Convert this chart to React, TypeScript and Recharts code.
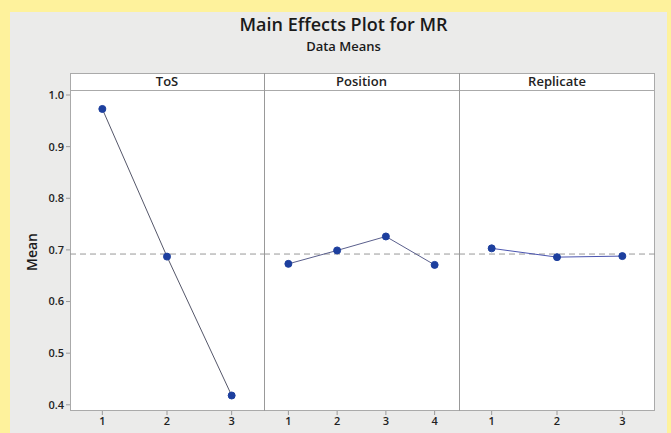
import React from "react";
import { LineChart, Line, XAxis, YAxis, ReferenceLine } from "recharts";

const tosLevels = ["1", "2", "3"];
const tosMeans = [0.973, 0.687, 0.418];
const positionLevels = ["1", "2", "3", "4"];
const positionMeans = [0.673, 0.699, 0.726, 0.671];
const replicateLevels = ["1", "2", "3"];
const replicateMeans = [0.703, 0.686, 0.688];
const overallMean = 0.692;
const yTicks = [0.4, 0.5, 0.6, 0.7, 0.8, 0.9, 1.0];

const FONT = "'Open Sans', 'Noto Sans', sans-serif";
const yDomain = [0.388, 1.0097];

const toRows = (levels: string[], means: number[]) =>
  levels.map((level, i) => ({ level, mean: means[i] }));

interface PanelProps {
  levels: string[];
  means: number[];
  left: number;
  width: number;
  lineColor: string;
  showY?: boolean;
}

const Panel: React.FC<PanelProps> = ({ levels, means, left, width, lineColor, showY }) => {
  const yw = showY ? 70 : 0;
  return (
    <div style={{ position: "absolute", left: left - yw, top: 0 }}>
      <LineChart
        width={width + yw}
        height={433}
        data={toRows(levels, means)}
        margin={{ top: 90, right: 0, bottom: 2, left: 0 }}
      >
        <XAxis
          dataKey="level"
          scale="band"
          interval={0}
          height={20}
          axisLine={false}
          tickSize={4}
          tickLine={{ stroke: "#999" }}
          tick={{ fontSize: 11, fill: "#222", fontFamily: FONT, fontWeight: 600 }}
        />
        <YAxis
          hide={!showY}
          width={yw}
          domain={yDomain}
          ticks={yTicks}
          allowDataOverflow
          axisLine={false}
          tickSize={4}
          tickLine={{ stroke: "#999" }}
          tickFormatter={(v: number) => v.toFixed(1)}
          tick={{ fontSize: 11, fill: "#222", fontFamily: FONT, fontWeight: 600 }}
        />
        <ReferenceLine
          y={overallMean}
          stroke="#999"
          strokeDasharray="6 4"
          strokeWidth={1}
        />
        <Line
          dataKey="mean"
          stroke={lineColor}
          strokeWidth={1}
          dot={{ r: 3.5, fill: "#1d3f9e", stroke: "#1d3f9e", strokeWidth: 1 }}
          isAnimationActive={false}
        />
      </LineChart>
    </div>
  );
};

const headers = [
  { label: "ToS", left: 70, width: 194 },
  { label: "Position", left: 264, width: 195 },
  { label: "Replicate", left: 459, width: 196 },
];

export default function App() {
  return (
    <div
      style={{
        position: "absolute",
        left: 0,
        top: 0,
        width: 671,
        height: 433,
        background: "#fef29c",
        overflow: "hidden",
        fontFamily: FONT,
      }}
    >
      <div
        style={{
          position: "absolute",
          left: 10,
          top: 12,
          width: 657,
          height: 430,
          background: "#ebebea",
        }}
      />
      <div
        style={{
          position: "absolute",
          left: 0,
          width: 671,
          top: 12,
          textAlign: "center",
          fontSize: 18,
          fontWeight: 600,
          color: "#1a1a1a",
          paddingLeft: 16,
          boxSizing: "border-box",
        }}
      >
        Main Effects Plot for MR
      </div>
      <div
        style={{
          position: "absolute",
          left: 0,
          width: 671,
          top: 37,
          textAlign: "center",
          fontSize: 13,
          fontWeight: 600,
          color: "#1a1a1a",
          paddingLeft: 16,
          boxSizing: "border-box",
        }}
      >
        Data Means
      </div>
      {/* plot frame */}
      <div
        style={{
          position: "absolute",
          left: 70,
          top: 73,
          width: 585,
          height: 338,
          background: "#fff",
          boxSizing: "border-box",
          border: "1px solid #aaa",
        }}
      />
      <div
        style={{
          position: "absolute",
          left: 70,
          top: 90,
          width: 585,
          height: 1,
          background: "#aaa",
        }}
      />
      {[264, 459].map((x) => (
        <div
          key={x}
          style={{
            position: "absolute",
            left: x,
            top: 73,
            width: 1,
            height: 338,
            background: "#999",
          }}
        />
      ))}
      {headers.map((h) => (
        <div
          key={h.label}
          style={{
            position: "absolute",
            left: h.left,
            top: 73,
            width: h.width,
            height: 17,
            lineHeight: "17px",
            textAlign: "center",
            fontSize: 13,
            fontWeight: 600,
            color: "#222",
          }}
        >
          {h.label}
        </div>
      ))}
      <div
        style={{
          position: "absolute",
          left: 31,
          top: 252,
          transform: "translate(-50%, -50%) rotate(-90deg)",
          fontSize: 14,
          fontWeight: 600,
          color: "#1a1a1a",
        }}
      >
        Mean
      </div>
      <Panel levels={tosLevels} means={tosMeans} left={70} width={194} lineColor="#55576a" showY />
      <Panel levels={positionLevels} means={positionMeans} left={264} width={195} lineColor="#5a5f8c" />
      <Panel levels={replicateLevels} means={replicateMeans} left={459} width={196} lineColor="#4b55b0" />
    </div>
  );
}
